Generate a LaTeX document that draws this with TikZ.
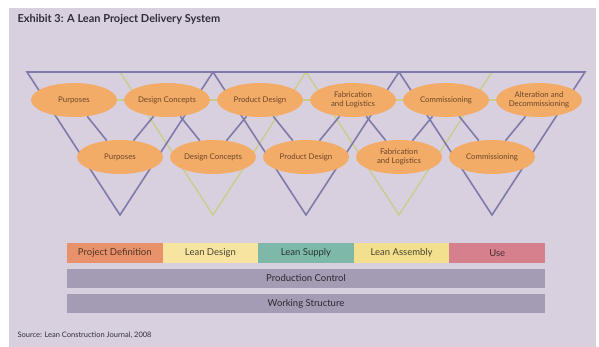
\documentclass[tikz,border=0pt]{standalone}
\usepackage{fontspec}
\setmainfont{Lato}
\usetikzlibrary{shapes}

\definecolor{panel}{RGB}{216,208,222}
\definecolor{titletext}{RGB}{50,44,56}
\definecolor{phaseorange}{RGB}{242,172,104}
\definecolor{phasetext}{RGB}{110,70,40}
\definecolor{triviolet}{RGB}{128,122,170}
\definecolor{trigreen}{RGB}{200,206,140}
\definecolor{pdcolor}{RGB}{232,146,108}
\definecolor{ldcolor}{RGB}{246,228,160}
\definecolor{lscolor}{RGB}{126,184,168}
\definecolor{lacolor}{RGB}{242,224,142}
\definecolor{usecolor}{RGB}{214,128,142}
\definecolor{bargray}{RGB}{164,156,180}

\begin{document}
\begin{tikzpicture}[x=1pt,y=-1pt,
    stage/.style={ellipse,fill=phaseorange,minimum width=86pt,minimum height=34pt,
      inner sep=0pt,align=center,text=phasetext,font=\fontsize{7.8}{8.6}\selectfont},
    bar/.style={minimum height=19.5pt,inner sep=0pt,font=\fontsize{9.5}{10}\selectfont},
    purp/.style={draw=triviolet,line width=1.6pt},
    grn/.style={draw=trigreen,line width=1.4pt}]
      % page and panel
      \useasboundingbox (0,0) rectangle (599,347);
      \fill[white] (0,0) rectangle (599,347);
      \fill[panel] (9,8) rectangle (596,347);
      \node[anchor=west,text=titletext,font=\bfseries\fontsize{11}{13}\selectfont] (title) at (14,19) {Exhibit 3: A Lean Project Delivery System};
      \node[anchor=west,text=titletext,font=\fontsize{7.5}{8}\selectfont] (src) at (14,335) {Source: Lean Construction Journal, 2008};
      % corners of the triangles
      \coordinate (c0) at (27,72);
      \coordinate (c1) at (120,72);
      \coordinate (c2) at (213,72);
      \coordinate (c3) at (306,72);
      \coordinate (c4) at (399,72);
      \coordinate (c5) at (492,72);
      \coordinate (c6) at (585,72);
      \coordinate (a1) at (120,215);
      \coordinate (a2) at (213,215);
      \coordinate (a3) at (306,215);
      \coordinate (a4) at (399,215);
      \coordinate (a5) at (492,215);
      \draw[grn] (c1) -- (a2) -- (c3) -- cycle;
      \draw[grn] (c3) -- (a4) -- (c5) -- cycle;
      \draw[purp] (c0) -- (a1) -- (c2) -- cycle;
      \draw[purp] (c2) -- (a3) -- (c4) -- cycle;
      \draw[purp] (c4) -- (a5) -- (c6) -- cycle;
      % upper row
      \node[stage] (pu) at (74,100) {Purposes};
      \node[stage] (dc) at (167,100) {Design Concepts};
      \node[stage] (pd) at (260,100) {Product Design};
      \node[stage] (fl) at (353,100) {Fabrication\\and Logistics};
      \node[stage] (co) at (446,100) {Commissioning};
      \node[stage] (ad) at (539,100) {Alteration and\\Decommissioning};
      % lower row
      \node[stage] (pu2) at (120,157) {Purposes};
      \node[stage] (dc2) at (213,157) {Design Concepts};
      \node[stage] (pd2) at (306,157) {Product Design};
      \node[stage] (fl2) at (399,157) {Fabrication\\and Logistics};
      \node[stage] (co2) at (492,157) {Commissioning};
      \draw[purp] (pu) -- (pu2);
      \draw[purp] (dc) -- (pu2);
      \draw[purp] (dc) -- (dc2);
      \draw[purp] (pd) -- (dc2);
      \draw[purp] (pd) -- (pd2);
      \draw[purp] (fl) -- (pd2);
      \draw[purp] (fl) -- (fl2);
      \draw[purp] (co) -- (fl2);
      \draw[purp] (co) -- (co2);
      \draw[purp] (ad) -- (co2);
      \draw[grn] (pu) -- (dc);
      \draw[grn] (dc) -- (pd);
      \draw[grn] (pd) -- (fl);
      \draw[grn] (fl) -- (co);
      \draw[grn] (co) -- (ad);
      % bars
      \node[bar,fill=pdcolor,text=pdcolor!35!black,minimum width=95.8pt] (pdef) at (114.8,253) {Project Definition};
      \node[bar,fill=ldcolor,text=ldcolor!30!black,minimum width=95.8pt] (ldes) at (210.4,253) {Lean Design};
      \node[bar,fill=lscolor,text=lscolor!30!black,minimum width=95.8pt] (lsup) at (306,253) {Lean Supply};
      \node[bar,fill=lacolor,text=lacolor!30!black,minimum width=95.8pt] (lass) at (401.6,253) {Lean Assembly};
      \node[bar,fill=usecolor,text=usecolor!35!black,minimum width=95.8pt] (use) at (497.2,253) {Use};
      \node[bar,fill=bargray,text=bargray!25!black,minimum width=478pt] (prod) at (306,278.5) {Production Control};
      \node[bar,fill=bargray,text=bargray!25!black,minimum width=478pt] (work) at (306,303.5) {Working Structure};
    \end{tikzpicture}
\end{document}
